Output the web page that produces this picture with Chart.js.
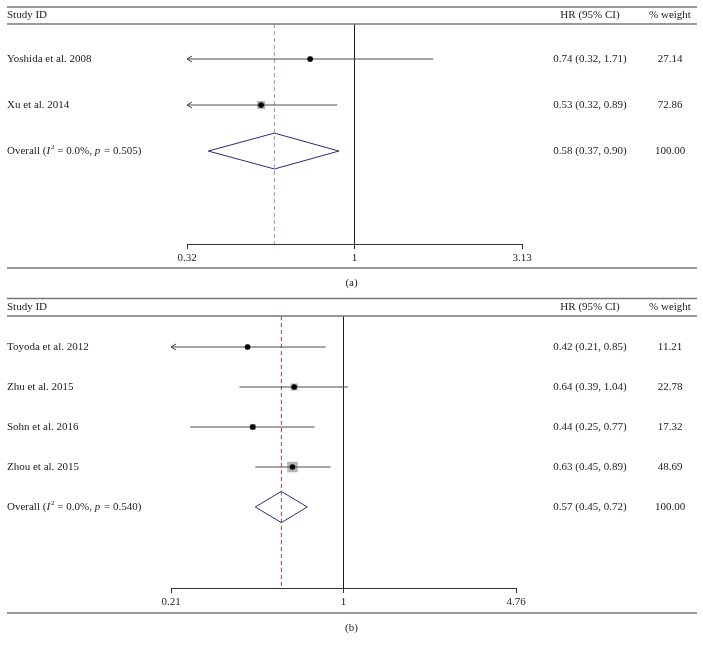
<!DOCTYPE html>
<html>
<head>
<meta charset="utf-8">
<script src="https://cdn.jsdelivr.net/npm/chart.js@4.4.1/dist/chart.umd.min.js"></script>
<style>
  body { margin: 0; background: #fff; }
  canvas { display: block; }
</style>
</head>
<body>
<canvas id="forestA" width="703" height="290"></canvas>
<canvas id="forestB" width="703" height="359"></canvas>
<script>
// panel (a)
var studiesA = ["Yoshida et al. 2008", "Xu et al. 2014"];
var hrA = [0.74, 0.53];
var lowerA = [0.32, 0.32];
var upperA = [1.71, 0.89];
var weightA = [27.14, 72.86];
var overallA = [0.58, 0.37, 0.90];   // estimate, lower, upper
var hetA = ["0.0%", "0.505"];        // I^2, p
var ticksA = [0.32, 1, 3.13];

// panel (b)
var studiesB = ["Toyoda et al. 2012", "Zhu et al. 2015", "Sohn et al. 2016", "Zhou et al. 2015"];
var hrB = [0.42, 0.64, 0.44, 0.63];
var lowerB = [0.21, 0.39, 0.25, 0.45];
var upperB = [0.85, 1.04, 0.77, 0.89];
var weightB = [11.21, 22.78, 17.32, 48.69];
var overallB = [0.57, 0.45, 0.72];
var hetB = ["0.0%", "0.540"];
var ticksB = [0.21, 1, 4.76];

var FONT = "Liberation Serif";
var TEXT = "#222";
var HR_X = 590;
var WT_X = 670;

function ciText(est, lo, hi)
{
  return est.toFixed(2) + " (" + lo.toFixed(2) + ", " + hi.toFixed(2) + ")";
}

function tablePlugin(p)
{
  return {
    id: "table",
    afterDraw: function(chart) {
      var ctx = chart.ctx;
      var area = chart.chartArea;
      var xs = chart.scales.x;
      var ys = chart.scales.y;
      ctx.save();

      ctx.strokeStyle = "#777";
      ctx.lineWidth = 1.5;
      [p.ruleTop, area.top, p.ruleBottom].forEach(function(ry) {
        ctx.beginPath();
        ctx.moveTo(7, ry);
        ctx.lineTo(697, ry);
        ctx.stroke();
      });

      ctx.fillStyle = TEXT;
      ctx.font = "11px " + FONT;
      ctx.textBaseline = "middle";
      ctx.textAlign = "left";
      ctx.fillText("Study ID", 7, p.headerY);
      ctx.textAlign = "center";
      ctx.fillText("HR (95% CI)", HR_X, p.headerY);
      ctx.fillText("% weight", WT_X, p.headerY);

      var total = 0;
      for (var i = 0; i < p.studies.length; i++) {
        var py = ys.getPixelForValue(i + 1);
        total += p.weight[i];
        ctx.textAlign = "left";
        ctx.fillText(p.studies[i], 7, py);
        ctx.textAlign = "center";
        ctx.fillText(ciText(p.hr[i], p.lower[i], p.upper[i]), HR_X, py);
        ctx.fillText(p.weight[i].toFixed(2), WT_X, py);

        // CI runs past the axis: arrow head
        if (p.lower[i] <= p.ticks[0]) {
          var ax = xs.getPixelForValue(p.ticks[0]);
          ctx.strokeStyle = "#444";
          ctx.lineWidth = 1;
          ctx.beginPath();
          ctx.moveTo(ax + 5, py - 3);
          ctx.lineTo(ax, py);
          ctx.lineTo(ax + 5, py + 3);
          ctx.stroke();
        }
      }

      // overall row, with italic I and p
      var oy = ys.getPixelForValue(p.studies.length + 1);
      var parts = [
        ["Overall (", "", 0],
        ["I", "italic ", 0],
        ["2", "", 1],
        [" = " + p.het[0] + ", ", "", 0],
        ["p", "italic ", 0],
        [" = " + p.het[1] + ")", "", 0]
      ];
      var tx = 7;
      ctx.textAlign = "left";
      parts.forEach(function(part) {
        ctx.font = part[1] + (part[2] ? "7px " : "11px ") + FONT;
        ctx.fillText(part[0], tx, part[2] ? oy - 4 : oy);
        tx += ctx.measureText(part[0]).width + (part[1] ? 1 : 0);
      });
      ctx.font = "11px " + FONT;
      ctx.textAlign = "center";
      ctx.fillText(ciText(p.overall[0], p.overall[1], p.overall[2]), HR_X, oy);
      ctx.fillText(total.toFixed(2), WT_X, oy);

      ctx.fillText(p.caption, 351.5, p.captionY);
      ctx.restore();
    }
  };
}

function drawForest(id, p)
{
  var n = p.studies.length;
  var xmin = p.ticks[0];
  var xmax = p.ticks[p.ticks.length - 1];
  var points = p.hr.map(function(v, i) { return { x: v, y: i + 1 }; });

  var datasets = [];
  datasets.push({
    data: [{ x: p.overall[0], y: p.yMin }, { x: p.overall[0], y: p.yMax }],
    showLine: true, pointRadius: 0, borderColor: p.dashColor, borderWidth: 1,
    borderDash: [4, 3], order: 5
  });
  datasets.push({
    data: points, pointStyle: "rect",
    pointRadius: p.weight.map(function(w) { return Math.sqrt(w) * p.boxScale / Math.SQRT2; }),
    backgroundColor: "#b5b5b5", borderWidth: 0, order: 4
  });
  for (var i = 0; i < n; i++) {
    datasets.push({
      data: [{ x: Math.max(p.lower[i], xmin), y: i + 1 }, { x: Math.min(p.upper[i], xmax), y: i + 1 }],
      showLine: true, pointRadius: 0, borderColor: "#4a4a4a", borderWidth: 1, order: 3
    });
  }
  var row = n + 1;
  var h = p.diamondHalf;
  datasets.push({
    data: [
      { x: p.overall[1], y: row }, { x: p.overall[0], y: row - h },
      { x: p.overall[2], y: row }, { x: p.overall[0], y: row + h },
      { x: p.overall[1], y: row }
    ],
    showLine: true, pointRadius: 0, borderColor: "#2c2c7a", borderWidth: 1, fill: false, order: 2
  });
  datasets.push({
    data: points, pointStyle: "circle", pointRadius: 2.8,
    backgroundColor: "#000", borderWidth: 0, order: 1
  });

  new Chart(id, {
    type: "scatter",
    data: { datasets: datasets },
    options: {
      responsive: false,
      animation: false,
      events: [],
      layout: { padding: { left: p.left, right: 703 - p.right, top: p.top, bottom: p.bottomPad } },
      plugins: { legend: { display: false }, tooltip: { enabled: false } },
      scales: {
        x: {
          type: "logarithmic",
          bounds: "data",
          min: xmin,
          max: xmax,
          afterBuildTicks: function(scale) {
            scale.ticks = p.ticks.map(function(v) { return { value: v }; });
          },
          afterFit: function(scale) { scale.height = 24; },
          grid: {
            color: function(c) { return c.tick && c.tick.value === 1 ? "#1a1a1a" : "rgba(0,0,0,0)"; },
            tickColor: "#333",
            tickLength: 5,
            lineWidth: 1
          },
          border: { display: true, color: "#333", width: 1 },
          ticks: {
            callback: function(v) { return String(v); },
            font: { family: FONT, size: 11 },
            color: TEXT,
            padding: 3,
            maxRotation: 0,
            autoSkip: false
          }
        },
        y: { type: "linear", display: false, reverse: true, min: p.yMin, max: p.yMax }
      }
    },
    plugins: [tablePlugin(p)]
  });
}

drawForest("forestA", {
  studies: studiesA, hr: hrA, lower: lowerA, upper: upperA, weight: weightA,
  overall: overallA, het: hetA, ticks: ticksA, caption: "(a)",
  left: 187, right: 522, top: 24, bottomPad: 22, yMin: 0.239, yMax: 5.02,
  ruleTop: 7, headerY: 15.5, ruleBottom: 268, captionY: 283,
  boxScale: 0.95, diamondHalf: 0.39, dashColor: "#c48a96"
});

drawForest("forestB", {
  studies: studiesB, hr: hrB, lower: lowerB, upper: upperB, weight: weightB,
  overall: overallB, het: hetB, ticks: ticksB, caption: "(b)",
  left: 171, right: 516, top: 26, bottomPad: 37, yMin: 0.225, yMax: 7.025,
  ruleTop: 8.5, headerY: 17, ruleBottom: 323, captionY: 338,
  boxScale: 1.5, diamondHalf: 0.39, dashColor: "#b0404a"
});
</script>
</body>
</html>
